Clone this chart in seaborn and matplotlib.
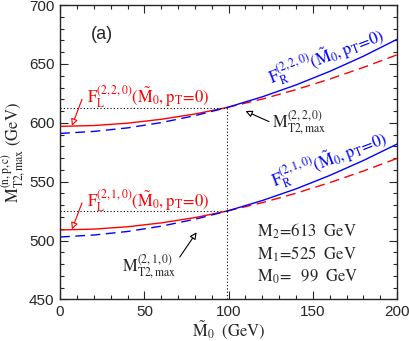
import numpy as np
import pandas as pd
import seaborn as sns
import matplotlib.pyplot as plt
from matplotlib.ticker import MultipleLocator

# M0 tilde grid (GeV) and curve values
m0_left = [0, 20, 40, 60, 80, 99]
m0_right = [99, 120, 140, 160, 180, 200]

# (2,2,0): F_L (red) and F_R (blue)
fl_220_left = [597.0, 597.7, 599.7, 603.0, 607.5, 613.0]
fl_220_right = [613.0, 620.2, 628.2, 637.2, 647.1, 657.8]
fr_220_left = [591.0, 592.7, 595.7, 600.2, 606.1, 613.0]
fr_220_right = [613.0, 622.1, 632.2, 643.7, 656.6, 671.0]

# (2,1,0)
fl_210_left = [509.0, 509.7, 511.7, 515.0, 519.5, 525.0]
fl_210_right = [525.0, 532.2, 540.2, 549.2, 559.1, 569.8]
fr_210_left = [503.0, 504.7, 507.7, 512.2, 518.1, 525.0]
fr_210_right = [525.0, 534.0, 543.9, 555.3, 568.0, 582.0]

m2, m1, m0 = 613, 525, 99
params = [r'$\mathrm{M}_2\!=\!613\ \ \mathrm{GeV}$',
          r'$\mathrm{M}_1\!=\!525\ \ \mathrm{GeV}$',
          r'$\mathrm{M}_0\!=\ \ 99\ \ \mathrm{GeV}$']

sns.set_style("ticks")
plt.rcParams['font.family'] = ['Liberation Sans', 'DejaVu Sans']
plt.rcParams['mathtext.fontset'] = 'stix'

fig = plt.figure(figsize=(4.09, 3.41), dpi=100)
ax = fig.add_axes([0.147, 0.122, 0.824, 0.863])

lw = 1.0
dash = (7, 4)
sns.lineplot(x=m0_left, y=fl_220_left, color='red', lw=lw, ax=ax)
sns.lineplot(x=m0_right, y=fl_220_right, color='red', lw=lw, ax=ax).lines[-1].set_dashes(dash)
sns.lineplot(x=m0_left, y=fr_220_left, color='blue', lw=lw, ax=ax).lines[-1].set_dashes(dash)
sns.lineplot(x=m0_right, y=fr_220_right, color='blue', lw=lw, ax=ax)

sns.lineplot(x=m0_left, y=fl_210_left, color='red', lw=lw, ax=ax)
sns.lineplot(x=m0_right, y=fl_210_right, color='red', lw=lw, ax=ax).lines[-1].set_dashes(dash)
sns.lineplot(x=m0_left, y=fr_210_left, color='blue', lw=lw, ax=ax).lines[-1].set_dashes(dash)
sns.lineplot(x=m0_right, y=fr_210_right, color='blue', lw=lw, ax=ax)

# dotted guide lines
ax.plot([0, m0], [m2, m2], color='black', ls=(0, (1, 2)), lw=0.8)
ax.plot([0, m0], [m1, m1], color='black', ls=(0, (1, 2)), lw=0.8)
ax.plot([m0, m0], [450, m2], color='black', ls=(0, (1, 2)), lw=0.8)

ax.set_xlim(0, 200)
ax.set_ylim(450, 700)
ax.xaxis.set_major_locator(MultipleLocator(50))
ax.xaxis.set_minor_locator(MultipleLocator(10))
ax.yaxis.set_major_locator(MultipleLocator(50))
ax.yaxis.set_minor_locator(MultipleLocator(10))
ax.tick_params(which='both', direction='in', top=True, right=True, width=0.8)
ax.tick_params(which='major', length=6, labelsize=11, pad=4)
ax.tick_params(which='minor', length=3)
for s in ax.spines.values():
    s.set_linewidth(1.0)

ax.set_xlabel(r'$\tilde{\mathrm{M}}_0\ \ \mathrm{(GeV)}$', fontsize=12, labelpad=0)
ax.set_ylabel(r'$\mathrm{M}_{\mathrm{T2,max}}^{(\mathrm{n,p,c})}\ \mathrm{(GeV)}$', fontsize=12, labelpad=1)

ax.text(25, 675, '(a)', fontsize=13, ha='center', va='center')

arr = lambda c: dict(arrowstyle='-|>', fc='white', ec=c, lw=0.8, mutation_scale=10, shrinkA=0, shrinkB=0)

fl220 = r'$\mathrm{F}_{\mathrm{L}}^{(2,2,0)}(\tilde{\mathrm{M}}_0,\mathrm{p}_\mathrm{T}\!=\!0)$'
fl210 = r'$\mathrm{F}_{\mathrm{L}}^{(2,1,0)}(\tilde{\mathrm{M}}_0,\mathrm{p}_\mathrm{T}\!=\!0)$'
fr220 = r'$\mathrm{F}_{\mathrm{R}}^{(2,2,0)}(\tilde{\mathrm{M}}_0,\mathrm{p}_\mathrm{T}\!=\!0)$'
fr210 = r'$\mathrm{F}_{\mathrm{R}}^{(2,1,0)}(\tilde{\mathrm{M}}_0,\mathrm{p}_\mathrm{T}\!=\!0)$'

ax.annotate('', xy=(7, 597.5), xytext=(13, 620), arrowprops=arr('red'))
ax.text(16, 622, fl220, color='red', fontsize=12, ha='left', va='center')
ax.annotate('', xy=(7, 509.5), xytext=(13, 532), arrowprops=arr('red'))
ax.text(16, 534, fl210, color='red', fontsize=12, ha='left', va='center')

ax.text(158, 656, fr220, color='blue', fontsize=12, ha='center', va='center',
        rotation=21, rotation_mode='anchor')
ax.text(160, 569, fr210, color='blue', fontsize=12, ha='center', va='center',
        rotation=21, rotation_mode='anchor')

ax.annotate('', xy=(110, 610), xytext=(124, 601), arrowprops=arr('black'))
ax.text(126, 600, r'$\mathrm{M}_{\mathrm{T2,max}}^{(2,2,0)}$', fontsize=12, ha='left', va='center')
ax.annotate('', xy=(81, 507), xytext=(71, 486), arrowprops=arr('black'))
ax.text(53, 478, r'$\mathrm{M}_{\mathrm{T2,max}}^{(2,1,0)}$', fontsize=12, ha='center', va='center')

for i, t in enumerate(params):
    ax.text(117, 508 - i * 19.5, t, fontsize=12, ha='left', va='center')

plt.savefig('out.png', dpi=100)
